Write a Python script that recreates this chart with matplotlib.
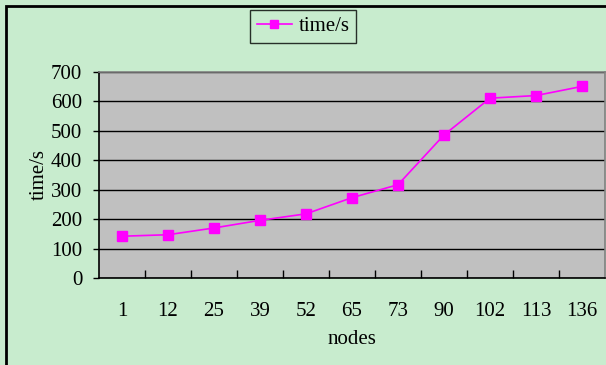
import matplotlib
matplotlib.use("Agg")
import matplotlib.pyplot as plt
from matplotlib.patches import Rectangle
import numpy as np

nodes = ["1", "12", "25", "39", "52", "65", "73", "90", "102", "113", "136"]
times = [142, 147, 170, 196, 218, 273, 317, 486, 611, 620, 651]
y_ticks = [0, 100, 200, 300, 400, 500, 600, 700]

plt.rcParams["font.family"] = ["Liberation Serif", "DejaVu Serif"]
FS = 15

W, H = 606, 365
fig = plt.figure(figsize=(W / 100, H / 100), dpi=100)
fig.patch.set_facecolor("#c8ecce")

# outer frame
fig.patches.append(Rectangle((6 / W, -0.1), 1.2, 1.1 - 6 / H,
                             transform=fig.transFigure, fill=False,
                             edgecolor="black", linewidth=2, zorder=0))

ax = fig.add_axes([99 / W, 87 / H, 506 / W, 206 / H])
ax.set_facecolor("#c0c0c0")

x = np.arange(len(nodes))
ax.plot(x, times, color="#ff00ff", marker="s", markersize=7,
        linewidth=1.2, label="time/s", zorder=3)

ax.set_xlim(-0.5, len(nodes) - 0.5)
ax.set_ylim(0, 700)
ax.set_yticks(y_ticks)
ax.set_yticklabels([str(v) for v in y_ticks], fontsize=FS)
ax.yaxis.grid(True, color="black", linewidth=1)
ax.set_axisbelow(True)

ax.set_xticks(x)
ax.set_xticklabels(nodes, fontsize=FS)
ax.tick_params(axis="x", which="major", length=0, pad=17)
ax.set_xticks(np.arange(0.5, len(nodes) - 0.5, 1), minor=True)
ax.tick_params(axis="x", which="minor", direction="in", length=6,
               width=1, color="black")
ax.tick_params(axis="y", direction="out", length=4, width=1, pad=8)

for side in ("left", "bottom"):
    ax.spines[side].set_color("black")
    ax.spines[side].set_linewidth(1.2)
for side in ("top", "right"):
    ax.spines[side].set_color("#808080")
    ax.spines[side].set_linewidth(1.2)

ax.set_xlabel("nodes", fontsize=FS, labelpad=7)
ax.set_ylabel("time/s", fontsize=FS, labelpad=2)

leg = fig.legend(loc="center", bbox_to_anchor=(303 / W, 1 - 26.5 / H),
                 fontsize=FS, frameon=True, fancybox=False,
                 handlelength=1.7, handletextpad=0.3, borderpad=0.3,
                 borderaxespad=0.2, markerscale=0.8)
leg.get_frame().set_edgecolor("black")
leg.get_frame().set_facecolor("#c8ecce")
leg.get_frame().set_linewidth(1)

fig.savefig("out.png", dpi=100, facecolor=fig.get_facecolor())
